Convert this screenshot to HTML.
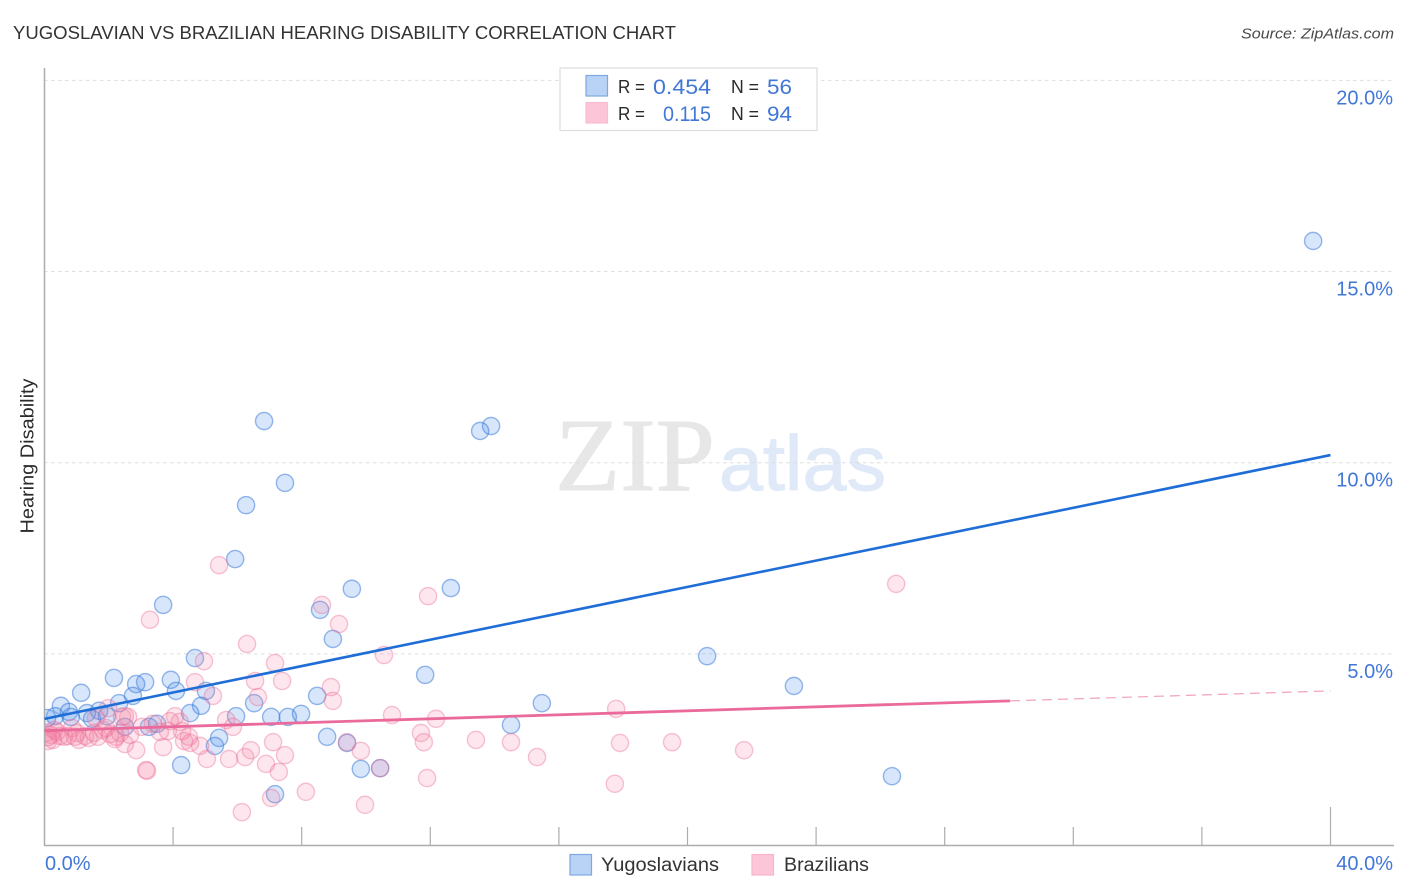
<!DOCTYPE html>
<html lang="en">
<head>
<meta charset="utf-8">
<title>Yugoslavian vs Brazilian Hearing Disability Correlation Chart</title>
<style>
html,body{margin:0;padding:0;background:#fff;}
svg{display:block;font-family:"Liberation Sans",sans-serif;}
</style>
</head>
<body>
<svg id="chart" xmlns="http://www.w3.org/2000/svg" width="1406" height="892" viewBox="0 0 1406 892">
  <defs>
    <clipPath id="plot-clip"><rect x="45" y="60" width="1350" height="785"/></clipPath>
  </defs>
  <rect x="0" y="0" width="1406" height="892" fill="#ffffff"/>
  <text x="13" y="39" font-size="18.5" fill="#333333" textLength="663" lengthAdjust="spacingAndGlyphs">YUGOSLAVIAN VS BRAZILIAN HEARING DISABILITY CORRELATION CHART</text>
  <text x="1394" y="38.5" font-size="15" font-style="italic" fill="#4a4a4a" text-anchor="end" textLength="153" lengthAdjust="spacingAndGlyphs">Source: ZipAtlas.com</text>

  <g>
    <text x="555" y="490" font-family="'Liberation Serif',serif" font-size="104" fill="#e7e7e7" stroke="#e7e7e7" stroke-width="1" textLength="160" lengthAdjust="spacingAndGlyphs">ZIP</text>
    <text x="719" y="490" font-size="78" fill="#dfe9f8" stroke="#dfe9f8" stroke-width="1" textLength="167" lengthAdjust="spacingAndGlyphs">atlas</text>
  </g>

  <g id="grid"></g>
  <g id="axes"></g>
  <g id="points" clip-path="url(#plot-clip)"></g>
  <g id="trends"></g>
  <g id="labels"></g>

  <text transform="translate(33.5,456) rotate(-90)" font-size="18.5" fill="#2a2a2a" text-anchor="middle" textLength="155" lengthAdjust="spacingAndGlyphs">Hearing Disability</text>

  <g>
    <rect x="560" y="68" width="257" height="62.5" fill="#ffffff" stroke="#dddddd" stroke-width="1.2"/>
    <rect x="586" y="75.5" width="21.5" height="20.5" fill="#b9d3f6" stroke="#7fa8e0" stroke-width="1.2"/>
    <rect x="586" y="102.5" width="21.5" height="20.5" fill="#fcc6d8" stroke="#f9bdd1" stroke-width="1.2"/>
    <text x="618" y="93" font-size="18.5" fill="#2a2a2a" textLength="27" lengthAdjust="spacingAndGlyphs">R =</text>
    <text x="653" y="94" font-size="21.5" fill="#4177d6" textLength="58" lengthAdjust="spacingAndGlyphs">0.454</text>
    <text x="731" y="93" font-size="18.5" fill="#2a2a2a" textLength="28" lengthAdjust="spacingAndGlyphs">N =</text>
    <text x="767" y="94" font-size="21.5" fill="#4177d6" textLength="25" lengthAdjust="spacingAndGlyphs">56</text>
    <text x="618" y="120" font-size="18.5" fill="#2a2a2a" textLength="27" lengthAdjust="spacingAndGlyphs">R =</text>
    <text x="663" y="121" font-size="21.5" fill="#4177d6" textLength="48" lengthAdjust="spacingAndGlyphs">0.115</text>
    <text x="731" y="120" font-size="18.5" fill="#2a2a2a" textLength="28" lengthAdjust="spacingAndGlyphs">N =</text>
    <text x="767" y="121" font-size="21.5" fill="#4177d6" textLength="25" lengthAdjust="spacingAndGlyphs">94</text>
  </g>

  <g>
    <rect x="570" y="854.5" width="21.5" height="20.5" fill="#b9d3f6" stroke="#7fa8e0" stroke-width="1.2"/>
    <text x="601" y="871" font-size="19" fill="#333333" textLength="118" lengthAdjust="spacingAndGlyphs">Yugoslavians</text>
    <rect x="752" y="854.5" width="21.5" height="20.5" fill="#fcc6d8" stroke="#f9b5cc" stroke-width="1.2"/>
    <text x="784" y="871" font-size="19" fill="#333333" textLength="85" lengthAdjust="spacingAndGlyphs">Brazilians</text>
  </g>
</svg>

<script>
var yTickValues = [5, 10, 15, 20];
var yTickLabels = ['5.0%', '10.0%', '15.0%', '20.0%'];
var xTickValues = [4, 8, 12, 16, 20, 24, 28, 32, 36, 40];
var xEndValues = [0, 40];
var xEndLabels = ['0.0%', '40.0%'];

var yugoslavianX = [39.46,6.83,13.89,13.55,7.48,6.27,5.93,12.64,9.56,3.69,8.57,8.97,4.68,20.61,2.16,3.13,3.93,2.85,1.14,4.09,5.02,23.31,11.84,8.48,2.75,2.32,0.51,4.87,6.52,15.47,4.53,5.96,7.05,7.57,7.98,8.79,0.76,1.32,1.70,0.82,1.48,1.94,0.33,0.08,2.50,3.25,3.50,5.43,5.30,4.25,7.17,9.41,9.84,10.44,14.51,26.36];
var yugoslavianY = [15.80,11.09,10.96,10.83,9.47,8.89,7.48,6.72,6.70,6.28,6.15,5.39,4.89,4.94,4.37,4.26,4.32,4.21,3.98,4.03,4.03,4.16,4.45,3.90,3.90,3.71,3.64,3.64,3.71,3.71,3.45,3.37,3.35,3.35,3.43,2.83,3.48,3.45,3.51,3.35,3.30,3.37,3.37,3.32,3.09,3.09,3.17,2.80,2.59,2.09,1.33,2.67,1.99,2.01,3.14,1.80];

var brazilianX = [5.43,26.49,8.63,11.93,3.28,9.16,6.30,10.56,4.96,7.17,6.55,7.39,4.68,8.91,5.24,6.64,8.97,10.81,12.18,17.78,11.71,11.80,13.42,14.51,15.32,17.90,19.52,21.76,17.74,11.90,9.97,9.84,9.41,10.44,7.11,7.48,6.42,6.24,6.89,7.29,7.05,6.14,8.13,5.05,5.74,4.84,4.53,4.34,4.49,3.16,3.19,2.85,3.69,2.50,2.19,5.65,5.86,4.21,4.06,3.90,4.28,3.84,3.59,3.03,2.60,2.50,1.98,2.66,0.11,0.20,0.30,0.39,0.48,0.61,0.73,0.86,1.01,1.07,1.26,1.38,1.54,1.66,1.82,1.91,2.22,2.35,1.60,0.05,0.11,0.26,0.95,2.04,2.41,3.37];
var brazilianY = [7.32,6.83,6.28,6.51,5.89,5.78,5.26,4.97,4.81,4.76,4.29,4.29,4.26,4.13,3.90,3.87,3.77,3.40,3.30,3.56,2.93,2.69,2.75,2.69,2.30,2.67,2.69,2.48,1.60,1.75,1.05,2.46,2.69,2.01,2.69,2.35,2.48,2.30,2.12,1.91,1.23,0.86,1.39,2.25,2.25,2.59,2.67,2.72,2.83,1.96,1.94,2.48,2.56,2.64,2.77,3.27,3.09,3.22,3.37,3.24,2.98,2.98,2.96,3.09,3.35,3.37,3.58,2.88,2.72,2.88,3.01,2.96,2.85,2.83,2.85,3.06,2.93,2.75,2.85,2.80,2.93,2.83,3.01,3.06,2.83,2.93,3.32,2.93,2.82,2.75,2.83,2.90,3.35,3.17];

var yugoslavianTrendX = [0, 40];
var yugoslavianTrendY = [3.30, 10.20];
var brazilianTrendX = [0, 30.03];
var brazilianTrendY = [2.99, 3.77];
var brazilianDashX = [30.03, 40];
var brazilianDashY = [3.77, 4.03];

var NS = 'http://www.w3.org/2000/svg';
var X0 = 44.5, XPER = 32.15, Y0 = 845, YPER = 38.23;
function xPos(v) { return X0 + v * XPER; }
function yPos(v) { return Y0 - v * YPER; }
function make(tag, attrs, parent) {
  var el = document.createElementNS(NS, tag);
  for (var k in attrs) { el.setAttribute(k, attrs[k]); }
  parent.appendChild(el);
  return el;
}

var gridG = document.getElementById('grid');
var axesG = document.getElementById('axes');
var pointsG = document.getElementById('points');
var trendsG = document.getElementById('trends');
var labelsG = document.getElementById('labels');

yTickValues.forEach(function (v, i) {
  var line = make('line', {x1: 44, x2: 1394, y1: yPos(v), y2: yPos(v), stroke: '#dedede', 'stroke-width': 1, 'stroke-dasharray': '3.5 3.5'}, gridG);
  
  
  var t = make('text', {x: 1393, y: yPos(v) + 24, 'font-size': 20, fill: '#4177d6', 'text-anchor': 'end'}, labelsG);
  t.textContent = yTickLabels[i];
  
  
});

var yAxis = make('line', {x1: 44.5, x2: 44.5, y1: 68, y2: 846, stroke: '#adadad', 'stroke-width': 1.5}, axesG);


var xAxis = make('line', {x1: 44, x2: 1394, y1: 845.5, y2: 845.5, stroke: '#adadad', 'stroke-width': 1.5}, axesG);



xTickValues.forEach(function (v) {
  var top = v === 40 ? 807 : 827;
  var tick = make('line', {x1: xPos(v), x2: xPos(v), y1: top, y2: 845, stroke: '#adadad', 'stroke-width': 1.2}, axesG);
  
  
});

xEndValues.forEach(function (v, i) {
  var t = make('text', {x: i === 0 ? 45 : 1393, y: 870, 'font-size': 20, fill: '#4177d6', 'text-anchor': i === 0 ? 'start' : 'end'}, labelsG);
  t.textContent = xEndLabels[i];
  
  
});

yugoslavianX.forEach(function (v, i) {
  var c = make('circle', {cx: xPos(v), cy: yPos(yugoslavianY[i]), r: 8.6, fill: 'rgba(72,140,232,0.22)', stroke: 'rgba(50,115,215,0.5)', 'stroke-width': 1.4}, pointsG);
  
  
});
brazilianX.forEach(function (v, i) {
  var c = make('circle', {cx: xPos(v), cy: yPos(brazilianY[i]), r: 8.6, fill: 'rgba(244,130,165,0.2)', stroke: 'rgba(236,110,150,0.4)', 'stroke-width': 1.4}, pointsG);
  
  
});

var blueLine = make('line', {x1: xPos(yugoslavianTrendX[0]), y1: yPos(yugoslavianTrendY[0]), x2: xPos(yugoslavianTrendX[1]), y2: yPos(yugoslavianTrendY[1]), stroke: '#1f6dd6', 'stroke-width': 2.6}, trendsG);


var pinkLine = make('line', {x1: xPos(brazilianTrendX[0]), y1: yPos(brazilianTrendY[0]), x2: xPos(brazilianTrendX[1]), y2: yPos(brazilianTrendY[1]), stroke: '#ea6a9b', 'stroke-width': 2.8}, trendsG);


var pinkDash = make('line', {x1: xPos(brazilianDashX[0]), y1: yPos(brazilianDashY[0]), x2: xPos(brazilianDashX[1]), y2: yPos(brazilianDashY[1]), stroke: '#f0a8c2', 'stroke-width': 1.3, 'stroke-dasharray': '10 6'}, trendsG);


</script>
</body>
</html>
